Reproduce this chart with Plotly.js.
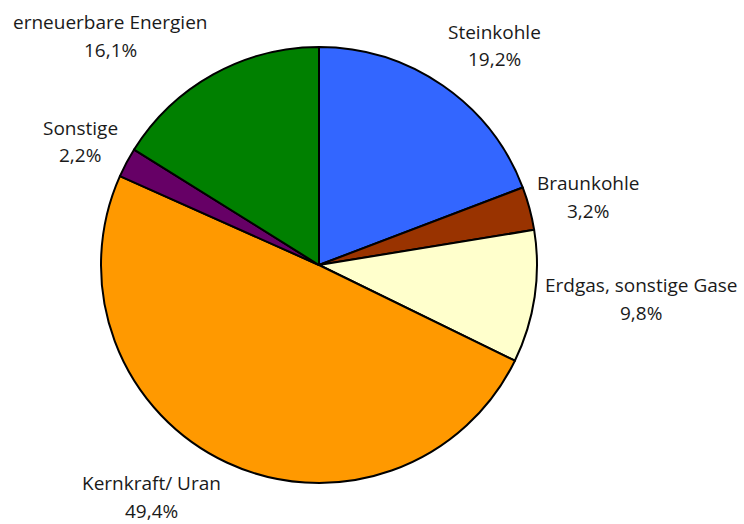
<!DOCTYPE html>
<html>
<head>
<meta charset="utf-8">
<script src="https://cdn.plot.ly/plotly-3.0.1.min.js"></script>
<style>
    body { margin: 0; background: #ffffff; }
    #graphique { width: 744px; height: 524px; }
</style>
</head>
<body>
<div id="graphique"></div>
<script>
// Données du diagramme (sens horaire à partir de midi)
const categories = ["Steinkohle", "Braunkohle", "Erdgas, sonstige Gase", "Kernkraft/ Uran", "Sonstige", "erneuerbare Energien"];
const parts = [19.2, 3.2, 9.8, 49.4, 2.2, 16.1];
const couleurs = ["#3366FF", "#993300", "#FFFFCC", "#FF9900", "#660066", "#008000"];

// Position des étiquettes (pixels, centre du bloc de texte)
const etiquettes_x = [494, 588, 641, 151, 80, 110];
const etiquettes_y = [45.5, 197, 299, 497, 141.5, 36];

const largeur = 744;
const hauteur = 524;

// centre et rayon du camembert en pixels
const cx = 319, cy = 265, rayon = 218;

function texte_pourcent(v) {
    return v.toFixed(1).replace(".", ",") + "%";
}

let donnee = [{
    type: "pie",
    labels: categories,
    values: parts,
    sort: false,
    direction: "clockwise",
    rotation: 0,
    textinfo: "none",
    hoverinfo: "label+value",
    marker: {
        colors: couleurs,
        line: {color: "#000000", width: 2}
    },
    domain: {
        x: [(cx - rayon) / largeur, (cx + rayon) / largeur],
        y: [(hauteur - cy - rayon) / hauteur, (hauteur - cy + rayon) / hauteur]
    },
    showlegend: false
}];

// Chaque étiquette = deux annotations (nom + pourcentage)
let annotations = [];
let police = {family: "Open Sans, sans-serif", size: 19, color: "#1a1a1a"};
for (let i = 0; i < categories.length; i = i + 1) {
    annotations.push({
        text: categories[i],
        x: etiquettes_x[i] / largeur,
        y: 1 - (etiquettes_y[i] - 13.75) / hauteur,
        xref: "paper", yref: "paper",
        xanchor: "center", yanchor: "middle",
        showarrow: false,
        font: police
    });
    annotations.push({
        text: texte_pourcent(parts[i]),
        x: etiquettes_x[i] / largeur,
        y: 1 - (etiquettes_y[i] + 13.75) / hauteur,
        xref: "paper", yref: "paper",
        xanchor: "center", yanchor: "middle",
        showarrow: false,
        font: police
    });
}

let apparence = {
    width: largeur,
    height: hauteur,
    margin: {l: 0, r: 0, t: 0, b: 0},
    paper_bgcolor: "#ffffff",
    annotations: annotations
};

Plotly.newPlot("graphique", donnee, apparence, {displayModeBar: false, staticPlot: true});
</script>
</body>
</html>
